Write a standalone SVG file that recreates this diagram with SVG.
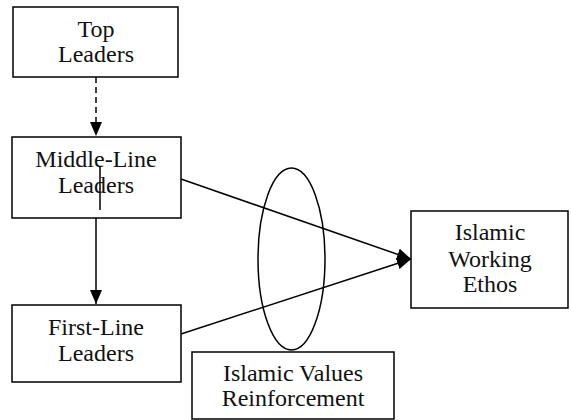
<svg xmlns="http://www.w3.org/2000/svg" width="571" height="420" viewBox="0 0 571 420">
<style>
.box{fill:#fff;stroke:#000;stroke-width:1.5}
.ln{stroke:#000;stroke-width:1.5;fill:none}
</style>
<defs>
<marker id="ah2" viewBox="0 0 14 12" refX="14" refY="6" markerWidth="14" markerHeight="12" markerUnits="userSpaceOnUse" orient="auto">
<path d="M0,0 L14,6 L0,12 Z" fill="#000"/>
</marker>
</defs>
<g id="connectors">
<line class="ln" x1="96" y1="77" x2="96" y2="136" stroke-dasharray="6,4" marker-end="url(#ah2)"/>
<line class="ln" x1="96" y1="218" x2="96" y2="304" marker-end="url(#ah2)"/>
<line class="ln" x1="181" y1="179" x2="411" y2="259" marker-end="url(#ah2)"/>
<line class="ln" x1="181" y1="334" x2="411" y2="259" marker-end="url(#ah2)"/>
</g>
<g id="top-leaders">
<rect class="box" x="13" y="7" width="165" height="70"/>
<text font-family="Liberation Serif, serif" font-size="24" fill="#111" text-anchor="middle" x="96" y="37">Top</text>
<text font-family="Liberation Serif, serif" font-size="24" fill="#111" text-anchor="middle" x="96" y="62">Leaders</text>
</g>
<g id="middle-line-leaders">
<rect x="12" y="137" width="169" height="81" fill="none" stroke="#000" stroke-width="1.5"/>
<text font-family="Liberation Serif, serif" font-size="24" fill="#111" text-anchor="middle" x="96" y="167">Middle-Line</text>
<text font-family="Liberation Serif, serif" font-size="24" fill="#111" text-anchor="middle" x="96" y="193">Leaders</text>
<line class="ln" x1="100" y1="166" x2="100" y2="210"/>
</g>
<g id="first-line-leaders">
<rect class="box" x="12" y="305" width="169" height="77"/>
<text font-family="Liberation Serif, serif" font-size="24" fill="#111" text-anchor="middle" x="96" y="335">First-Line</text>
<text font-family="Liberation Serif, serif" font-size="24" fill="#111" text-anchor="middle" x="96" y="361">Leaders</text>
</g>
<g id="islamic-working-ethos">
<rect class="box" x="411" y="211" width="157" height="97"/>
<text font-family="Liberation Serif, serif" font-size="24" fill="#111" text-anchor="middle" x="490" y="240">Islamic</text>
<text font-family="Liberation Serif, serif" font-size="24" fill="#111" text-anchor="middle" x="490" y="267">Working</text>
<text font-family="Liberation Serif, serif" font-size="24" fill="#111" text-anchor="middle" x="490" y="292">Ethos</text>
</g>
<g id="reinforcement-ellipse">
<ellipse cx="291.5" cy="259" rx="33.5" ry="91" fill="none" stroke="#000" stroke-width="1.5"/>
</g>
<g id="islamic-values-reinforcement">
<rect class="box" x="192" y="352" width="202" height="67"/>
<text font-family="Liberation Serif, serif" font-size="24" fill="#111" text-anchor="middle" x="293" y="381">Islamic Values</text>
<text font-family="Liberation Serif, serif" font-size="24" fill="#111" text-anchor="middle" x="293" y="406">Reinforcement</text>
</g>
</svg>
